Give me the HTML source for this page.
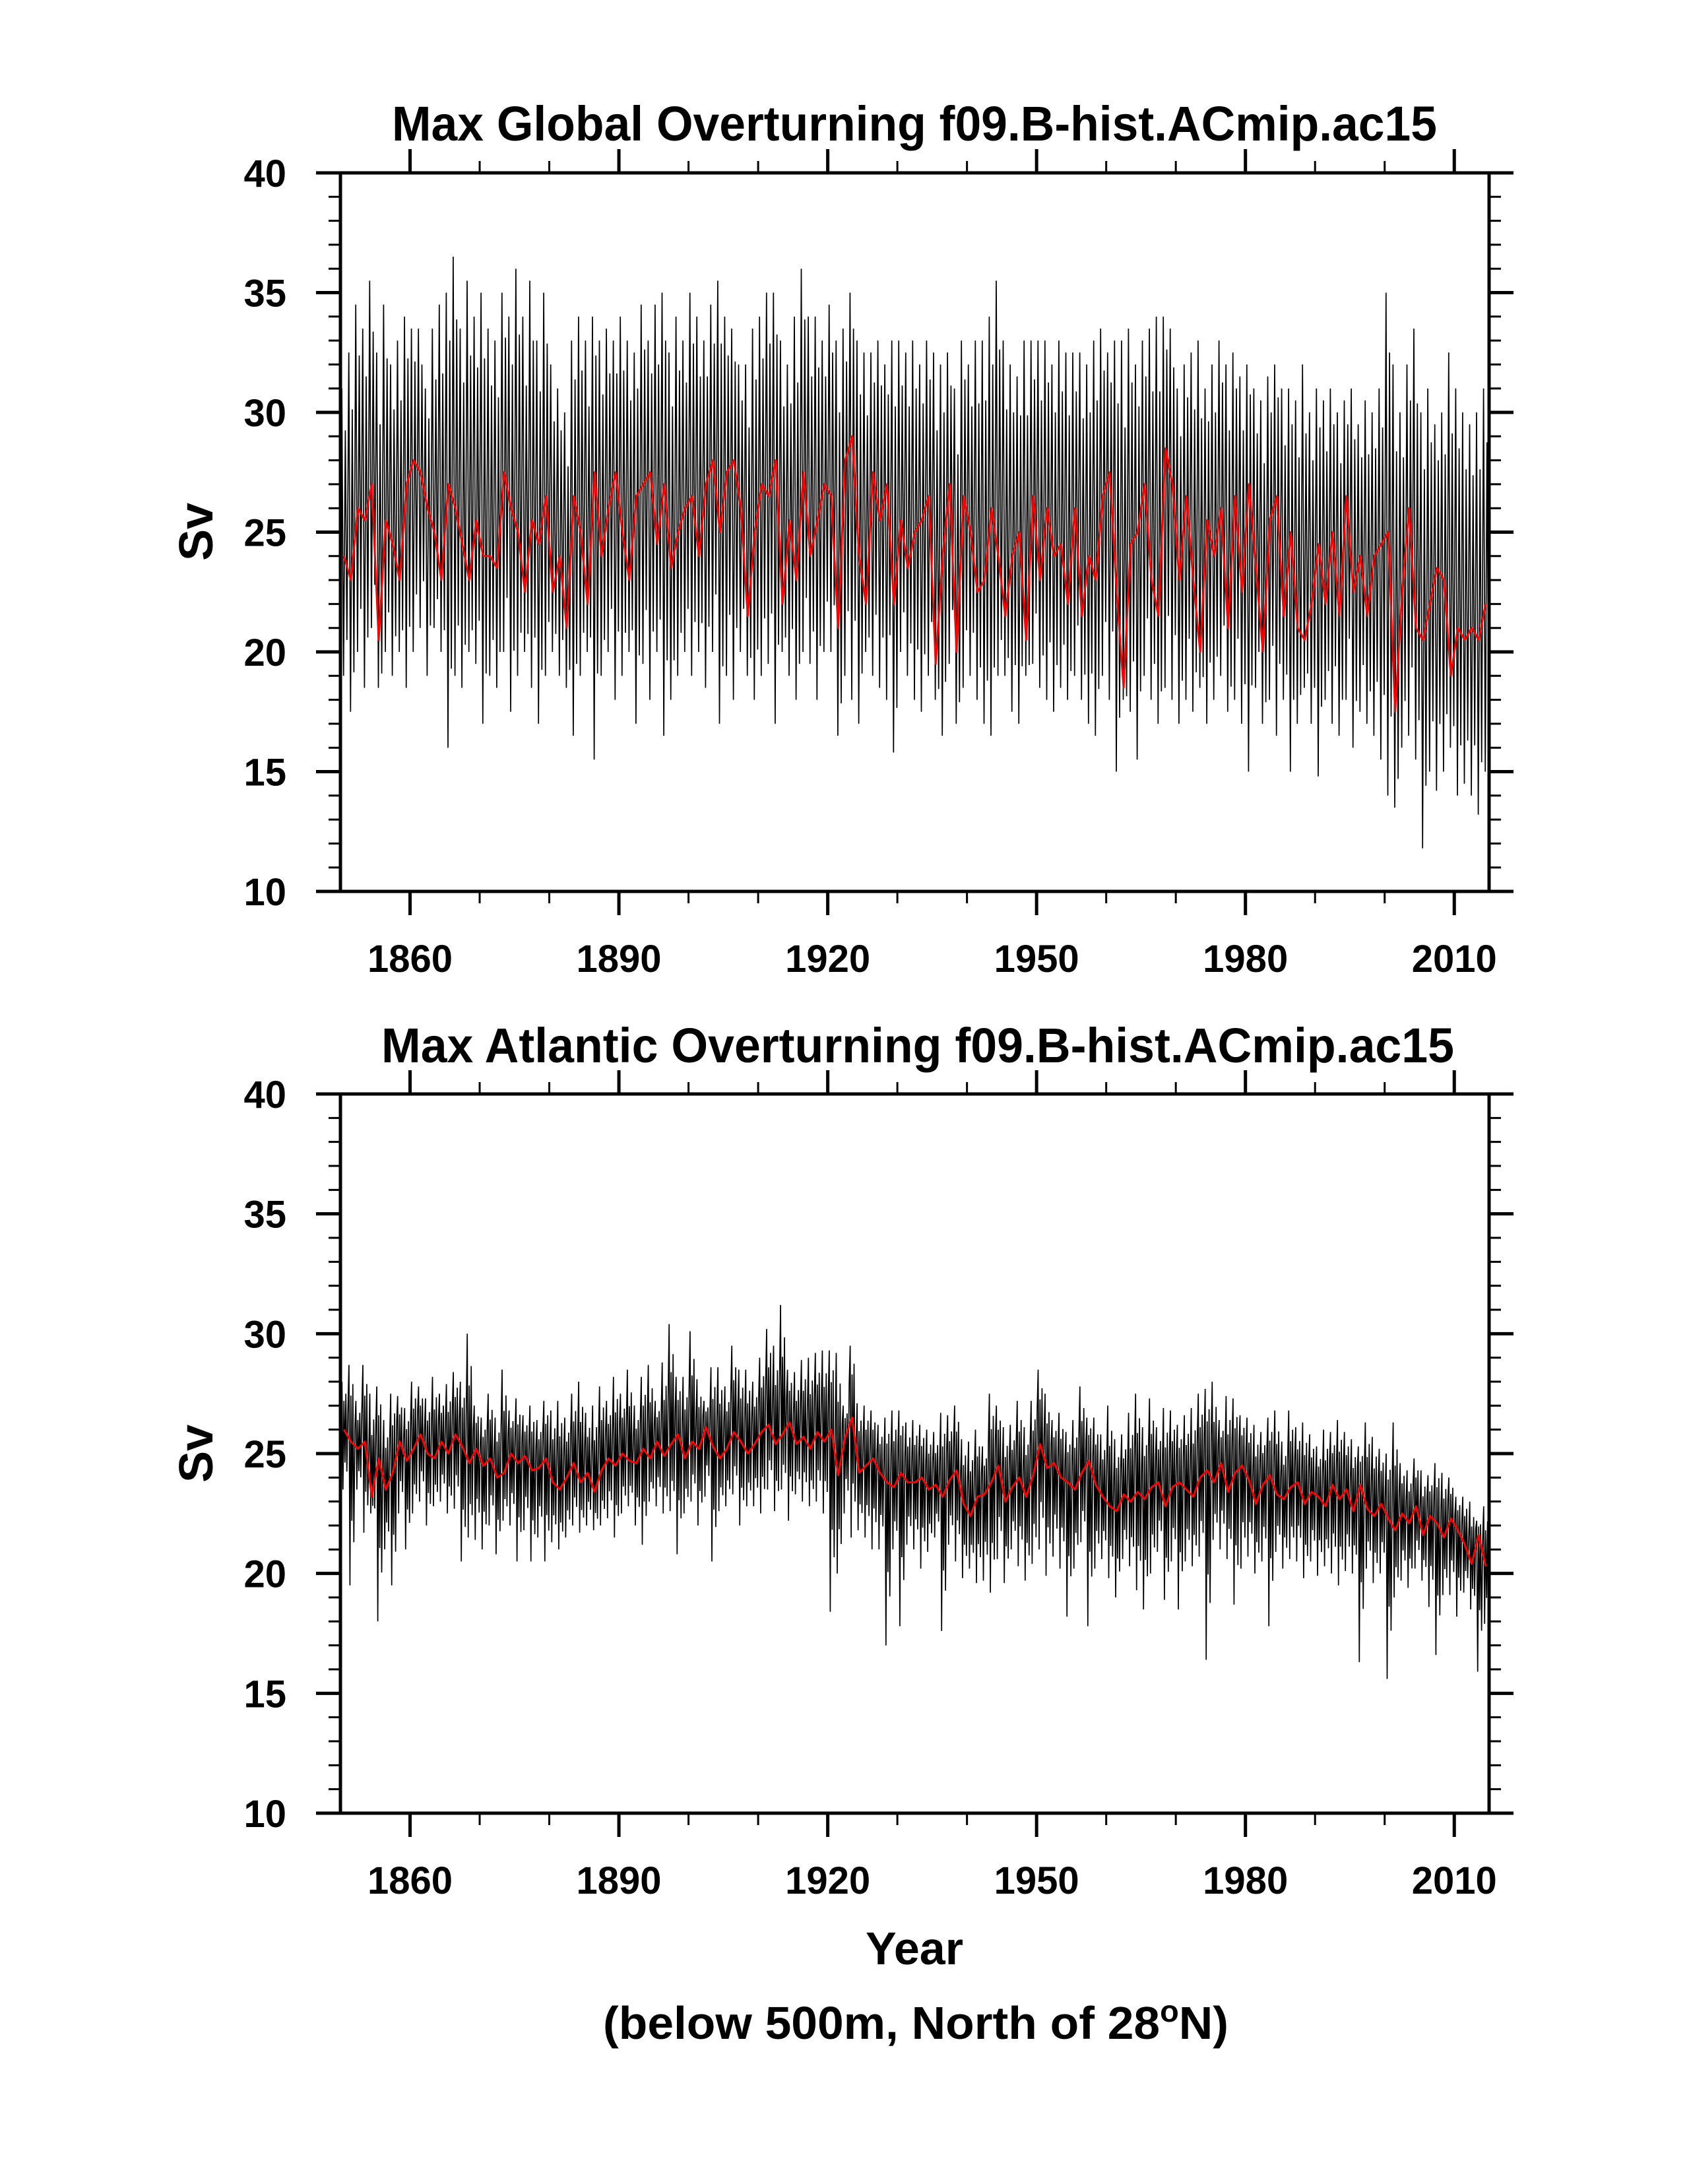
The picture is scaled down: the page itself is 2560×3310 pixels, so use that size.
<!DOCTYPE html>
<html><head><meta charset="utf-8">
<style>
html,body{margin:0;padding:0;background:#fff;}
svg{display:block;}
text{font-family:"Liberation Sans",Arial,sans-serif;font-weight:bold;fill:#000;}
</style></head>
<body>
<svg id="chart" xmlns="http://www.w3.org/2000/svg" width="2560" height="3310" viewBox="0 0 2560 3310">
<text x="1386" y="213" font-size="74" text-anchor="middle" textLength="1584" lengthAdjust="spacingAndGlyphs">Max Global Overturning f09.B-hist.ACmip.ac15</text>
<text x="1391" y="1610" font-size="74" text-anchor="middle" textLength="1626" lengthAdjust="spacingAndGlyphs">Max Atlantic Overturning f09.B-hist.ACmip.ac15</text>
<text x="0" y="0" font-size="72" text-anchor="middle" transform="translate(322,806) rotate(-90)">Sv</text>
<text x="0" y="0" font-size="72" text-anchor="middle" transform="translate(322,2203) rotate(-90)">Sv</text>
<text x="1386" y="2977" font-size="70" text-anchor="middle">Year</text>
<text x="1388" y="3090" font-size="70" text-anchor="middle" textLength="948" lengthAdjust="spacingAndGlyphs">(below 500m, North of 28<tspan font-size="46" dy="-26">o</tspan><tspan dy="26">N)</tspan></text>
</svg>
<script>
// x: years 1850..2014
const years = [];
for (let y = 1850; y <= 2014; y++) years.push(y);
const xTicks = [1860, 1890, 1920, 1950, 1980, 2010];
const yTicks = [10, 15, 20, 25, 30, 35, 40];

const globalMean = [24,23,26,25.5,27,20.5,25.5,24.5,23,27,
28,27.5,26,25,23,27,26,24.5,23,25.5,
24,24,23.5,27.5,26,25,22.5,25.5,24.5,26.5,
22.5,24,21,26.5,25,22,27.5,24,26,27.5,
25,23,26.5,27,27.5,24.5,27,23.5,25,26,
26.5,24,27,28,25,27.5,28,26,21.5,25,
27,26.5,28,22,25.5,23,27.5,24,25.5,27,
26.5,21,28,29,24,22,27.5,25.5,27,22,
25.5,23.5,25,25.5,26.5,19.5,24,27,20,26.5,
25,22.5,23,26,24,21.5,24,25,20.5,26.5,
23,26,24,24.5,22,26,21.5,24,23,26.5,
27.5,22.5,18.5,24.5,25,27,23,21.5,28.5,27,
23,26.5,23,20,25.5,24,26,21,26.5,22.5,
27,23.5,20,25.5,26.5,21.5,25,21,20.5,22,
24.5,22,25,21.5,26.5,22.5,24,21.5,24,24.5,
25,17.5,22.5,26,21,20.5,22,23.5,23,19,
21,20.5,21,20.5,22];
const globalHigh = [31,32.5,34.5,33.5,35.5,32.5,34.5,32,33,34,
33.5,33.5,31,33.5,34.5,35,36.5,33.5,35.5,34,
35,33.5,33,35,34,36,34,35.5,33,35,
32,31,30,33,34,33,34,33,33.5,33,
34,33,32.5,34.5,33,34.5,35,32.5,34,33,
35,34,33,34.5,35.5,34,33.5,32,32,33.5,
34,35,35,33,32,34,36,34,34,33,
34.5,33,33.5,35,33,32.5,32.5,33,32,33,
33,32.5,33,32,33,32.5,32,32.5,31,33,
32,33,33,34,35.5,33,32,31.5,33,33,
33,33,32,33,32.5,32.5,32.5,32,33,33.5,
32.5,33,33,33.5,32,33,33.5,34,34,33.5,
31,32,32.5,33,31,32,33,32,32.5,31.5,
32,31,30.5,31.5,32,31,31,30.5,32,30,
31,30.5,31,30,30.5,31,29.5,30.5,30,31,
35,32,30,32,33.5,30,31,29.5,30,32.5,
31,30,29.5,30,31];
const globalLow = [19,17.5,20,18.5,21,18.5,20,19,20,18.5,
20,21,19,21,20,16,19,18.5,20,19.5,
17,19,18.5,20,17.5,19,20,18.5,17,19,
20,19,18.5,16.5,19,20,15.5,19,20,18,
19,20,17,19.5,18,20,16.5,18,19,20,
19,20,18.5,20,17,19,18,20,19,18,
19,19.5,17,20,19,18,20,19.5,18,20,
20,16.5,19,18,17,20,19,18.5,18,15.8,
20,19,18,17.5,19,18,16.5,19.5,17,18.5,
19,18,17,16.5,19,19,17.5,17,19,19.5,
18.5,18,17.5,18.5,18,19,18,17,16.5,19,
18,15,18,17.5,15.5,19,18,17,18.5,18,
17,18,17.5,18.5,17,18,19,17.5,18,17,
15,18.5,17,18,16.5,18,15,17,18.5,17,
14.8,18,17,16.5,18,16,17.5,17,16.5,15.5,
14,13.5,16,16.5,15.5,11.8,15,14.2,15,16,
14,14.5,14,13.2,15];

const atlMean = [26,25.5,25.2,25.5,23.2,24.8,23.5,24.2,25.5,24.7,
25.2,25.8,25,24.8,25.5,25,25.8,25.3,24.6,25.2,
24.5,24.8,24,24.2,25,24.6,24.9,24.3,24.4,24.8,
23.8,23.5,24,24.6,23.8,24.2,23.4,24.3,24.8,24.5,
25,24.7,24.6,25.2,24.8,25.5,24.9,25.4,25.8,24.8,
25.5,25.2,26.1,25.3,24.8,25.2,25.9,25.5,25,25.4,
25.9,26.2,25.4,25.8,26.3,25.4,25.7,25.2,25.9,25.5,
26,24.1,25.7,26.5,24.2,24.5,24.8,24.2,23.8,23.6,
24.2,23.8,23.8,24,23.5,23.7,23.2,23.9,24.3,22.9,
22.4,23.2,23.3,23.8,24.5,23,23.6,24,23.2,24.1,
25.4,24.4,24.6,24,23.8,23.5,24.2,24.7,23.7,23.2,
22.8,22.6,23.3,23,23.4,23.1,23.6,23.8,22.8,23.6,
23.8,23.5,23.2,24,24.3,23.8,24.6,23.4,24.2,24.5,
23.9,22.9,23.7,24.1,23.3,23.1,23.6,23.8,22.9,23.4,
23.2,22.8,23.7,23.1,23.5,22.6,23.7,22.7,22.4,22.9,
22.3,21.8,22.5,22.1,22.8,21.6,22.4,22.1,21.5,22.3,
21.8,21.2,20.4,21.6,20.3];
const atlHigh = [28,28.7,27.2,28.7,27.5,27.8,26.4,27.5,27.4,26.9,
28,27.8,27.3,28.2,27.5,27.9,28.4,28,30,27,
26.5,27.5,26.5,28.5,26.8,27.3,26.6,27,26.4,27.2,
26.8,27.2,26.5,27.5,28,26.7,27,27.8,27.2,28.2,
27.5,28.5,27,28.2,28.7,27.2,28.8,30.4,28.2,28.2,
30.1,28.1,27.2,28.6,28.6,27.8,29.5,28.5,28.5,28,
29,30.2,29.5,31.2,28.5,28.4,28.9,29,29.2,29.3,
29.3,29.2,27,29.5,27.1,27,26.8,26.2,26.5,26.8,
26.8,26.3,26.4,26.2,26,25.9,26.7,26.6,27,25.6,
25.5,26,25.3,27.5,27,26.1,26.2,27.2,26.1,27.2,
28.5,27.5,26.4,26.7,25.9,26.4,27.8,26.5,26.5,25.8,
27,25.6,25.8,26.7,27.5,26.1,27.3,26.1,26.9,26.8,
26.2,26.6,26.9,27.5,27.7,28,26.4,27.4,27.3,26.6,
26.5,26.2,25.9,26.5,26.8,25.5,26.8,26.1,26.3,25.8,
25.3,26,25.9,26.4,25.9,25.6,25.3,26.3,25.7,25.2,
25,26.3,24.6,24.3,24.8,24.3,24.1,24.6,24.2,24,
23.2,23.2,23,22.2,22.8];
const atlLow = [23.5,19.5,23.5,21.7,22.5,18,21,19.5,22.5,21,
22.5,23,22,22.8,23,22.5,22.7,20.5,21.5,21.4,
21,22,20.8,22.2,22,20.5,21.8,20.5,21.5,20.5,
21.3,21,21.5,22,21.7,22,21.8,22,22.3,21.5,
22.5,22.8,22,21.2,23,22.8,22.5,22.6,20.8,22.5,
23,22,23.2,20.5,22.6,22.8,23.3,22,22.8,22.8,
22.5,23.5,22.6,23.5,22.2,23.3,23,22.8,23,22.5,
18.4,20,22.5,21.5,21.8,21.5,21,21,17,21,
17.8,21.2,21,20.2,20.9,21.5,17.6,21.2,20.5,19.8,
20.2,19.6,19.7,19.2,20.6,19.6,21,20.3,19.7,20.4,
21,19.9,20.7,20.2,18.2,20.2,21.3,17.8,20.2,20.6,
19.8,19,20.6,20.3,19.3,18.5,20,20.9,18.9,20.5,
18.5,20.5,20.3,20.7,16.4,21.4,21,20.6,18.7,20.2,
20.7,20,20.5,17.8,20.9,20.2,20.6,20.5,19.8,20.5,
19.9,20.3,20,19.5,20.1,20,16.3,20.2,19.6,20,
15.6,19,19.7,19.4,20.2,19.7,18.6,16.6,19.1,19.1,
18.2,19.2,18.5,15.9,17.9];

const NS = 'http://www.w3.org/2000/svg';
const svg = document.getElementById('chart');
const X0 = 516, X1 = 2257, YR0 = 1850, YR1 = 2015;
function xs(yr){ return X0 + (yr - YR0) * (X1 - X0) / (YR1 - YR0); }
function mk(tag, attrs){ const e = document.createElementNS(NS, tag); for (const k in attrs) e.setAttribute(k, attrs[k]); return e; }

function panel(prefix, top, bottom, mean, hi, lo, dense){
  const ys = v => bottom - (v - 10) * (bottom - top) / 30;
  const g = mk('g', {});
  
  
  svg.appendChild(g);
  let d = '';
  years.forEach((yr, i) => {
    const m = mean[i], h = hi[i], l = lo[i];
    const pts = dense
      ? [[yr+0.08, m+(h-m)*0.45],[yr+0.22, h],[yr+0.36, l],[yr+0.5, m+(h-m)*0.6],[yr+0.64, m-(m-l)*0.55],[yr+0.78, m+(h-m)*0.75],[yr+0.92, l+(m-l)*0.3]]
      : [[yr+0.2, h],[yr+0.45, l],[yr+0.7, m+(h-m)*0.75],[yr+0.93, m-(m-l)*0.7]];
    pts.forEach((p, j) => { d += (i===0 && j===0 ? 'M' : 'L') + xs(p[0]).toFixed(1) + ' ' + ys(p[1]).toFixed(1); });
  });
  const line = mk('path', {d: d, fill: 'none', stroke: '#000', 'stroke-width': 1.7, 'stroke-linejoin': 'miter'});
  
  
  g.appendChild(line);
  let rd = '';
  years.forEach((yr, i) => { rd += (i===0?'M':'L') + xs(yr+0.5).toFixed(1) + ' ' + ys(mean[i]).toFixed(1); });
  const red = mk('path', {d: rd, fill: 'none', stroke: '#ff0000', 'stroke-width': 3, 'stroke-linejoin': 'round'});
  
  
  g.appendChild(red);
  const frame = mk('rect', {x: X0, y: top, width: X1 - X0, height: bottom - top, fill: 'none', stroke: '#000', 'stroke-width': 5});
  
  
  g.appendChild(frame);
  for (let v = 10; v <= 40; v++) {
    const major = v % 5 === 0, L = major ? 37 : 18, y = ys(v);
    const t1 = mk('line', {x1: X0 - L, x2: X0, y1: y, y2: y, stroke: '#000', 'stroke-width': major ? 5 : 3});
    
    
    g.appendChild(t1);
    const t2 = mk('line', {x1: X1, x2: X1 + L, y1: y, y2: y, stroke: '#000', 'stroke-width': major ? 5 : 3});
    
    
    g.appendChild(t2);
  }
  yTicks.forEach(v => {
    const t = mk('text', {x: 434, y: ys(v) + 21, 'font-size': 58, 'text-anchor': 'end'});
    
    
    t.textContent = v;
    g.appendChild(t);
  });
  for (let yr = 1860; yr <= 2010; yr += 10) {
    const major = (yr - 1860) % 30 === 0, L = major ? 36 : 18, x = xs(yr);
    const b = mk('line', {x1: x, x2: x, y1: bottom, y2: bottom + L, stroke: '#000', 'stroke-width': major ? 5 : 3});
    
    
    g.appendChild(b);
    const tt = mk('line', {x1: x, x2: x, y1: top - L, y2: top, stroke: '#000', 'stroke-width': major ? 5 : 3});
    
    
    g.appendChild(tt);
  }
  xTicks.forEach(yr => {
    const t = mk('text', {x: xs(yr), y: bottom + 122, 'font-size': 58, 'text-anchor': 'middle'});
    
    
    t.textContent = yr;
    g.appendChild(t);
  });
}
panel('global', 262, 1351, globalMean, globalHigh, globalLow, false);
panel('atlantic', 1658, 2748, atlMean, atlHigh, atlLow, true);
</script>
</body></html>
